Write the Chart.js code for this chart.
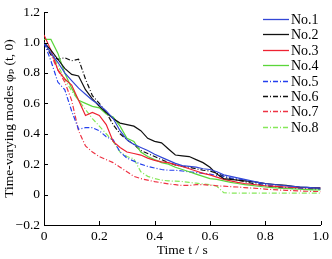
<!DOCTYPE html>
<html>
<head>
<meta charset="utf-8">
<script src="https://cdn.jsdelivr.net/npm/chart.js@4.4.1/dist/chart.umd.min.js"></script>
<style>
  html, body { margin: 0; padding: 0; background: #fff; }
  #wrap { width: 332px; height: 259px; }
</style>
</head>
<body>
<div id="wrap"><canvas id="chart" width="332" height="259"></canvas></div>
<script>
// time grid (s)
const times = [0, 0.025, 0.05, 0.075, 0.1, 0.125, 0.15, 0.175, 0.2, 0.225, 0.25, 0.275, 0.3, 0.325, 0.35, 0.375, 0.4, 0.425, 0.45, 0.475, 0.5,
    0.525, 0.55, 0.575, 0.6, 0.625, 0.65, 0.675, 0.7, 0.725, 0.75, 0.775, 0.8, 0.825, 0.85, 0.875, 0.9, 0.925, 0.95, 0.975, 1.0];

const labels = ['No.1', 'No.2', 'No.3', 'No.4', 'No.5', 'No.6', 'No.7', 'No.8'];

const no1 = [1.00, 0.93, 0.87, 0.80, 0.75, 0.70, 0.66, 0.62, 0.59, 0.55, 0.50, 0.42, 0.36, 0.33, 0.31, 0.29, 0.265, 0.245, 0.225, 0.205, 0.19,
    0.185, 0.18, 0.17, 0.165, 0.15, 0.13, 0.12, 0.11, 0.10, 0.09, 0.08, 0.073, 0.068, 0.063, 0.058, 0.054, 0.05, 0.047, 0.044, 0.042];
const no2 = [1.00, 0.95, 0.89, 0.83, 0.79, 0.78, 0.69, 0.63, 0.58, 0.54, 0.50, 0.47, 0.46, 0.45, 0.42, 0.37, 0.35, 0.34, 0.30, 0.26, 0.255,
    0.25, 0.23, 0.21, 0.18, 0.135, 0.105, 0.10, 0.095, 0.09, 0.086, 0.08, 0.073, 0.068, 0.064, 0.06, 0.055, 0.05, 0.047, 0.044, 0.042];
const no3 = [1.05, 0.95, 0.82, 0.76, 0.72, 0.62, 0.52, 0.54, 0.52, 0.46, 0.35, 0.31, 0.28, 0.27, 0.26, 0.24, 0.225, 0.215, 0.21, 0.195, 0.185,
    0.17, 0.155, 0.14, 0.13, 0.115, 0.10, 0.09, 0.08, 0.073, 0.068, 0.063, 0.058, 0.055, 0.053, 0.05, 0.048, 0.046, 0.045, 0.045, 0.045];
const no4 = [1.02, 1.02, 0.93, 0.80, 0.70, 0.62, 0.60, 0.58, 0.57, 0.53, 0.51, 0.45, 0.37, 0.35, 0.28, 0.25, 0.23, 0.21, 0.20, 0.18, 0.165,
    0.15, 0.135, 0.12, 0.105, 0.10, 0.09, 0.08, 0.073, 0.066, 0.06, 0.055, 0.05, 0.046, 0.042, 0.04, 0.037, 0.035, 0.033, 0.031, 0.03];
const no5 = [1.00, 0.88, 0.74, 0.69, 0.55, 0.43, 0.44, 0.44, 0.42, 0.38, 0.36, 0.28, 0.24, 0.22, 0.20, 0.185, 0.175, 0.165, 0.16, 0.16, 0.155,
    0.15, 0.145, 0.14, 0.135, 0.125, 0.12, 0.11, 0.105, 0.095, 0.085, 0.075, 0.066, 0.058, 0.052, 0.047, 0.043, 0.04, 0.037, 0.035, 0.035];
const no6 = [1.00, 0.92, 0.89, 0.90, 0.88, 0.89, 0.76, 0.65, 0.60, 0.54, 0.46, 0.40, 0.36, 0.33, 0.29, 0.27, 0.25, 0.23, 0.21, 0.195, 0.185,
    0.18, 0.17, 0.16, 0.155, 0.14, 0.12, 0.105, 0.095, 0.085, 0.075, 0.066, 0.058, 0.052, 0.048, 0.045, 0.042, 0.04, 0.038, 0.036, 0.035];
const no7 = [1.00, 0.92, 0.82, 0.74, 0.62, 0.42, 0.32, 0.28, 0.25, 0.23, 0.21, 0.18, 0.15, 0.12, 0.105, 0.095, 0.085, 0.078, 0.07, 0.065, 0.06,
    0.06, 0.065, 0.065, 0.062, 0.058, 0.055, 0.052, 0.05, 0.046, 0.043, 0.04, 0.036, 0.033, 0.03, 0.028, 0.026, 0.024, 0.022, 0.021, 0.02];
const no8 = [1.00, 0.93, 0.85, 0.76, 0.68, 0.62, 0.56, 0.50, 0.45, 0.40, 0.35, 0.28, 0.25, 0.235, 0.15, 0.12, 0.105, 0.095, 0.09, 0.088, 0.086,
    0.08, 0.075, 0.07, 0.065, 0.055, 0.012, 0.01, 0.01, 0.01, 0.01, 0.01, 0.01, 0.01, 0.01, 0.01, 0.01, 0.01, 0.01, 0.01, 0.01];

const seriesValues = [no1, no2, no3, no4, no5, no6, no7, no8];
const colors = ['#3347d6', '#111111', '#ee2232', '#5ad63a', '#2440ee', '#111111', '#ee3344', '#86e85a'];
const dashDot = [5, 2, 1, 2];

const FONT = "'Liberation Serif', 'DejaVu Serif', serif";

function toPoints(values) {
    return values.map((v, i) => ({ x: times[i], y: v }));
}

function tickLabel(value) {
    if (Math.abs(value) < 1e-9) return '0';
    const s = Math.abs(value).toFixed(1);
    return value < 0 ? '\u2212' + s : s;
}

// inward tick marks on the left and bottom axes
const innerTicks = {
    id: 'innerTicks',
    afterDatasetsDraw(chart) {
        const { ctx, chartArea, scales } = chart;
        ctx.save();
        ctx.strokeStyle = '#000';
        ctx.lineWidth = 1;
        ctx.beginPath();
        scales.y.ticks.forEach(t => {
            const py = Math.round(scales.y.getPixelForValue(t.value)) + 0.5;
            ctx.moveTo(chartArea.left, py);
            ctx.lineTo(chartArea.left + 4, py);
        });
        scales.x.ticks.forEach(t => {
            const px = Math.round(scales.x.getPixelForValue(t.value)) + 0.5;
            ctx.moveTo(px, chartArea.bottom);
            ctx.lineTo(px, chartArea.bottom - 4);
        });
        ctx.stroke();
        ctx.restore();
    }
};

// legend box in the top-right corner
const cornerLegend = {
    id: 'cornerLegend',
    afterDraw(chart) {
        const { ctx } = chart;
        ctx.save();
        ctx.font = '14px ' + FONT;
        ctx.textBaseline = 'middle';
        chart.data.datasets.forEach((ds, i) => {
            const y = Math.round(19 + i * 15.4) + 0.5;
            ctx.strokeStyle = ds.borderColor;
            ctx.lineWidth = 1.3;
            ctx.setLineDash(ds.borderDash || []);
            ctx.beginPath();
            ctx.moveTo(263, y);
            ctx.lineTo(289, y);
            ctx.stroke();
            ctx.setLineDash([]);
            ctx.fillStyle = '#000';
            ctx.fillText(ds.label, 291, y + 1);
        });
        ctx.restore();
    }
};

const datasets = seriesValues.map((vals, i) => ({
    label: labels[i],
    data: toPoints(vals),
    borderColor: colors[i],
    borderWidth: 1.2,
    borderDash: i >= 4 ? dashDot : [],
    pointRadius: 0,
    fill: false,
    tension: 0
}));

new Chart(document.getElementById('chart').getContext('2d'), {
    type: 'line',
    data: { datasets: datasets },
    options: {
        responsive: false,
        animation: false,
        devicePixelRatio: 1,
        layout: { padding: { top: 8, right: 10, left: 0, bottom: 0 } },
        plugins: {
            legend: { display: false },
            tooltip: { enabled: false }
        },
        scales: {
            x: {
                type: 'linear',
                min: 0,
                max: 1,
                afterFit: s => { s.height = 34; },
                border: { color: '#000', width: 1 },
                grid: { display: false, drawTicks: false },
                ticks: {
                    stepSize: 0.2,
                    padding: 3,
                    color: '#000',
                    font: { family: FONT, size: 13.5 },
                    maxRotation: 0,
                    callback: v => tickLabel(v)
                },
                title: {
                    display: true,
                    text: 'Time t / s',
                    color: '#000',
                    font: { family: FONT, size: 13.5 },
                    padding: { top: 0, bottom: 0 }
                }
            },
            y: {
                min: -0.2,
                max: 1.2,
                afterFit: s => { s.width = 44; },
                border: { color: '#000', width: 1 },
                grid: { display: false, drawTicks: false },
                ticks: {
                    stepSize: 0.2,
                    padding: 4,
                    color: '#000',
                    font: { family: FONT, size: 13.5 },
                    callback: v => tickLabel(v)
                },
                title: {
                    display: true,
                    text: 'Time-varying modes \u03C6\u209A (t, 0)',
                    color: '#000',
                    font: { family: FONT, size: 13.5 },
                    padding: { top: 1, bottom: 0 }
                }
            }
        }
    },
    plugins: [innerTicks, cornerLegend]
});
</script>
</body>
</html>
